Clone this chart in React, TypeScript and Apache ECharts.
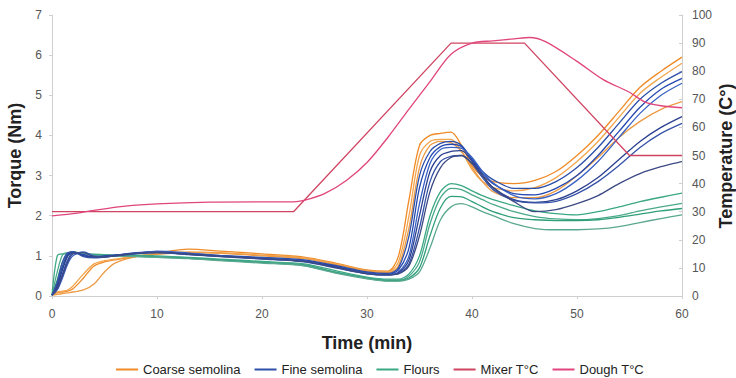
import React, { useEffect, useRef } from "react";
import * as echarts from "echarts";

// Shared time grid (min) for torque curves
const TIME = [0, 0.5, 1, 1.5, 2, 3, 4, 5, 6, 8, 10, 13, 16, 20, 24, 27, 30, 32, 33, 34, 35, 36, 37, 38, 39, 40, 41, 42, 44, 46, 48, 50, 52, 54, 56, 58, 60];

// Coarse semolina torque (Nm)
const COARSE_1 = [0.05, 0.08, 0.1, 0.12, 0.18, 0.45, 0.75, 0.85, 0.9, 0.98, 1.07, 1.17, 1.12, 1.05, 0.97, 0.82, 0.65, 0.62, 1.0, 2.4, 3.75, 4.0, 4.05, 4.08, 3.75, 3.25, 2.98, 2.85, 2.8, 2.88, 3.1, 3.5, 4.0, 4.6, 5.2, 5.6, 5.95];
const COARSE_2 = [0.05, 0.1, 0.12, 0.15, 0.25, 0.55, 0.8, 0.88, 0.92, 1.0, 1.05, 1.1, 1.08, 1.02, 0.95, 0.8, 0.63, 0.6, 0.85, 2.0, 3.5, 3.85, 3.9, 3.9, 3.6, 3.15, 2.85, 2.7, 2.62, 2.7, 2.95, 3.35, 3.85, 4.45, 5.05, 5.45, 5.8];
const COARSE_3 = [0.02, 0.04, 0.06, 0.08, 0.1, 0.15, 0.3, 0.6, 0.82, 0.98, 1.04, 1.08, 1.06, 1.0, 0.93, 0.78, 0.62, 0.58, 0.75, 1.7, 3.2, 3.75, 3.85, 3.82, 3.6, 3.2, 2.85, 2.6, 2.45, 2.45, 2.62, 3.0, 3.45, 3.95, 4.35, 4.65, 4.84];

// Fine semolina torque (Nm)
const FINE_1 = [0.02, 0.3, 0.75, 1.05, 1.1, 1.0, 0.97, 1.0, 1.02, 1.08, 1.1, 1.06, 1.01, 0.96, 0.9, 0.76, 0.6, 0.56, 0.7, 1.5, 3.0, 3.6, 3.8, 3.85, 3.75, 3.4, 3.1, 2.9, 2.68, 2.68, 2.85, 3.2, 3.7, 4.3, 4.9, 5.3, 5.59];
const FINE_2 = [0.02, 0.2, 0.55, 0.9, 1.08, 1.03, 0.97, 0.99, 1.02, 1.07, 1.1, 1.05, 1.0, 0.95, 0.88, 0.74, 0.58, 0.54, 0.65, 1.2, 2.7, 3.45, 3.72, 3.78, 3.72, 3.4, 3.05, 2.8, 2.55, 2.52, 2.68, 3.0, 3.5, 4.1, 4.7, 5.15, 5.42];
const FINE_3 = [0.02, 0.15, 0.45, 0.8, 1.0, 1.1, 1.0, 0.98, 1.0, 1.06, 1.12, 1.07, 1.0, 0.94, 0.87, 0.72, 0.57, 0.53, 0.6, 1.0, 2.3, 3.3, 3.65, 3.7, 3.68, 3.45, 3.1, 2.82, 2.5, 2.42, 2.55, 2.88, 3.35, 3.95, 4.55, 5.0, 5.3];
const FINE_4 = [0.02, 0.25, 0.65, 1.0, 1.1, 1.0, 0.96, 0.98, 1.01, 1.06, 1.08, 1.04, 0.99, 0.93, 0.86, 0.72, 0.56, 0.53, 0.58, 0.9, 2.0, 3.1, 3.5, 3.6, 3.62, 3.35, 3.0, 2.7, 2.4, 2.33, 2.4, 2.62, 2.95, 3.4, 3.85, 4.2, 4.47];
const FINE_5 = [0.02, 0.35, 0.85, 1.08, 1.1, 0.98, 0.95, 0.97, 1.0, 1.05, 1.08, 1.03, 0.98, 0.92, 0.85, 0.7, 0.55, 0.52, 0.56, 0.8, 1.7, 2.85, 3.35, 3.48, 3.5, 3.3, 2.95, 2.65, 2.38, 2.32, 2.36, 2.55, 2.85, 3.25, 3.7, 4.05, 4.3];
const FINE_6 = [0.02, 0.18, 0.5, 0.85, 1.05, 1.08, 0.98, 0.97, 1.0, 1.06, 1.09, 1.04, 0.99, 0.93, 0.86, 0.71, 0.56, 0.53, 0.55, 0.75, 1.5, 2.6, 3.2, 3.45, 3.5, 3.3, 3.0, 2.7, 2.35, 2.1, 2.15, 2.3, 2.5, 2.8, 3.05, 3.22, 3.35];

// Flours torque (Nm)
const FLOUR_1 = [0.02, 1.0, 1.05, 1.05, 1.06, 1.05, 1.04, 1.03, 1.02, 1.02, 1.0, 0.96, 0.92, 0.86, 0.8, 0.63, 0.47, 0.42, 0.42, 0.55, 1.0, 2.0, 2.6, 2.8, 2.75, 2.62, 2.5, 2.4, 2.25, 2.12, 2.05, 2.02, 2.1, 2.22, 2.35, 2.46, 2.56];
const FLOUR_2 = [0.02, 0.6, 1.02, 1.08, 1.08, 1.04, 1.02, 1.02, 1.01, 1.0, 0.98, 0.95, 0.9, 0.84, 0.78, 0.6, 0.45, 0.4, 0.4, 0.5, 0.85, 1.8, 2.45, 2.68, 2.65, 2.52, 2.4, 2.28, 2.1, 1.98, 1.92, 1.9, 1.93, 2.0, 2.12, 2.22, 2.31];
const FLOUR_3 = [0.02, 0.4, 0.85, 1.05, 1.1, 1.06, 1.03, 1.01, 1.0, 0.99, 0.97, 0.94, 0.89, 0.83, 0.76, 0.58, 0.44, 0.38, 0.38, 0.45, 0.7, 1.5, 2.2, 2.48, 2.47, 2.35, 2.22, 2.1, 1.95, 1.9, 1.88, 1.88, 1.9, 1.96, 2.04, 2.12, 2.18];
const FLOUR_4 = [0.02, 0.3, 0.7, 1.0, 1.08, 1.05, 1.02, 1.0, 0.99, 0.98, 0.96, 0.93, 0.88, 0.82, 0.75, 0.57, 0.43, 0.37, 0.37, 0.42, 0.6, 1.2, 1.9, 2.22, 2.3, 2.22, 2.1, 2.0, 1.8, 1.68, 1.65, 1.65, 1.67, 1.73, 1.83, 1.93, 2.02];

// Mixer temperature (°C)
const MIXER_TIME = [0, 23, 38, 45, 55, 60];
const MIXER_TEMP = [30, 30, 90, 90, 50, 50];

// Dough temperature (°C)
const DOUGH_TIME = [0, 2, 4, 7, 10, 15, 20, 23, 24, 26, 28, 30, 32, 34, 36, 38, 40, 42, 44, 45.5, 47, 50, 52.5, 55, 56.5, 58, 60];
const DOUGH_TEMP = [28.5, 29.3, 30.5, 32, 32.8, 33.4, 33.5, 33.5, 34, 36.5, 41, 47.5, 56.5, 66.5, 76.3, 86, 90, 90.8, 91.5, 92, 90.5, 83.5, 77, 72.5, 69, 67.7, 67];

const LEGEND_NAMES = ["Coarse semolina", "Fine semolina", "Flours", "Mixer T°C", "Dough T°C"];
const RIGHT_AXIS_TITLE = "Temperature (C°)";

const FONT = "'Liberation Sans', Arial, sans-serif";

const pairs = (xs: number[], ys: number[]) => xs.map((x, i) => [x, ys[i]]);

export default function App() {
  const ref = useRef<HTMLDivElement>(null);

  useEffect(() => {
    document.documentElement.style.overflow = "hidden";
    document.body.style.overflow = "hidden";
    document.body.style.margin = "0";
    if (!ref.current) return;
    const chart = echarts.init(ref.current, undefined, { renderer: "svg" });

    const torque = (name: string, values: number[], color: string) => ({
      name,
      type: "line",
      yAxisIndex: 0,
      data: pairs(TIME, values),
      showSymbol: false,
      smooth: 0.3,
      lineStyle: { color, width: 1.3 },
      itemStyle: { color },
    });

    const series: any[] = [
      torque("Coarse semolina", COARSE_1, "#ef8a26"),
      torque("Coarse semolina", COARSE_2, "#f3a54e"),
      torque("Coarse semolina", COARSE_3, "#ec9a44"),
      torque("Flours", FLOUR_1, "#3aa883"),
      torque("Flours", FLOUR_2, "#4aa98c"),
      torque("Flours", FLOUR_3, "#2f9f78"),
      torque("Flours", FLOUR_4, "#5aa891"),
      torque("Fine semolina", FINE_1, "#2e4fa8"),
      torque("Fine semolina", FINE_2, "#2448b0"),
      torque("Fine semolina", FINE_3, "#3a62c4"),
      torque("Fine semolina", FINE_4, "#2a3f8f"),
      torque("Fine semolina", FINE_5, "#3552a8"),
      torque("Fine semolina", FINE_6, "#3c4a84"),
      {
        name: "Mixer T°C",
        type: "line",
        yAxisIndex: 1,
        data: pairs(MIXER_TIME, MIXER_TEMP),
        showSymbol: false,
        lineStyle: { color: "#cf4461", width: 1.3 },
        itemStyle: { color: "#cf4461" },
      },
      {
        name: "Dough T°C",
        type: "line",
        yAxisIndex: 1,
        data: pairs(DOUGH_TIME, DOUGH_TEMP),
        showSymbol: false,
        smooth: 0.3,
        lineStyle: { color: "#e0457c", width: 1.3 },
        itemStyle: { color: "#e0457c" },
      },
    ];

    const axisLine = { show: true, lineStyle: { color: "#cfcfcf", width: 1 } };
    const axisTick = { show: true, length: 3, lineStyle: { color: "#cfcfcf" } };
    const axisLabel = { color: "#555", fontSize: 12, fontFamily: FONT };
    const nameStyle = { color: "#222", fontSize: 18, fontWeight: "bold" as const, fontFamily: FONT };

    chart.setOption({
      animation: false,
      backgroundColor: "#fff",
      grid: { left: 52, right: 54, top: 15, bottom: 82, containLabel: false, outerBoundsMode: "none" },
      xAxis: {
        type: "value",
        min: 0,
        max: 60,
        interval: 10,
        name: "Time (min)",
        nameLocation: "middle",
        nameGap: 38,
        nameTextStyle: nameStyle,
        axisLine,
        axisTick,
        axisLabel: { ...axisLabel, margin: 12 },
        splitLine: { show: false },
      },
      yAxis: [
        {
          type: "value",
          min: 0,
          max: 7,
          interval: 1,
          position: "left",
          name: "Torque (Nm)",
          nameLocation: "middle",
          nameRotate: 90,
          nameGap: 25,
          nameTextStyle: nameStyle,
          axisLine,
          axisTick,
          axisLabel: { ...axisLabel, margin: 10 },
          splitLine: { show: false },
        },
        {
          type: "value",
          min: 0,
          max: 100,
          interval: 10,
          position: "right",
          axisLine,
          axisTick: { ...axisTick, inside: true },
          axisLabel: { ...axisLabel, margin: 10 },
          splitLine: { show: false },
        },
      ],
      graphic: [
        {
          type: "text",
          x: 726,
          y: 156,
          rotation: Math.PI / 2,
          style: {
            text: RIGHT_AXIS_TITLE,
            fill: "#222",
            font: `bold 18px ${FONT}`,
            align: "center",
            verticalAlign: "middle",
          },
        },
      ],
      legend: {
        data: LEGEND_NAMES,
        top: 358,
        left: 111,
        icon: "rect",
        itemWidth: 22,
        itemHeight: 2,
        itemGap: 14,
        textStyle: { color: "#222", fontSize: 13, fontFamily: FONT },
      },
      series,
    });

    return () => chart.dispose();
  }, []);

  return <div ref={ref} style={{ width: 736, height: 378, position: "fixed", left: 0, top: 0 }} />;
}
